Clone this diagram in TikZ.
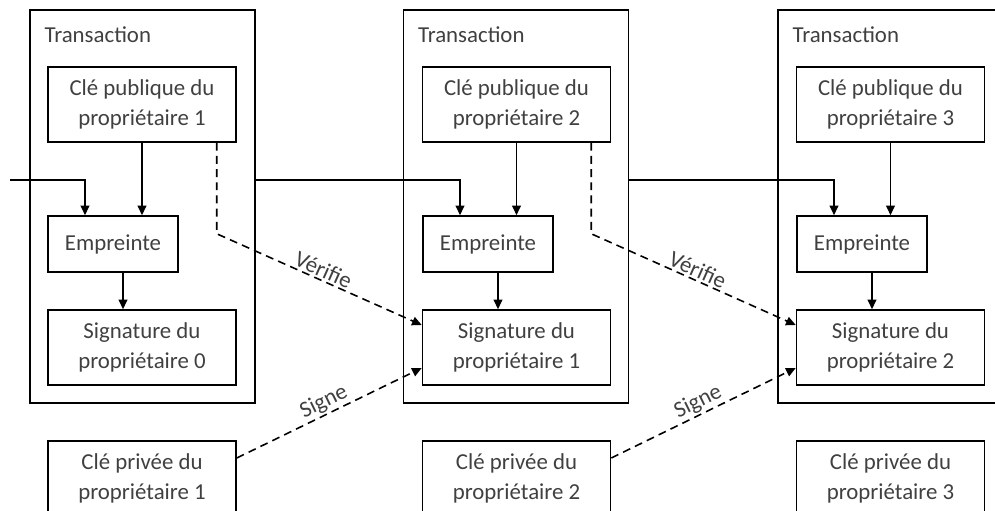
\documentclass[tikz,border=0pt]{standalone}
\usepackage{fontspec}
\setmainfont{Carlito}
\usetikzlibrary{arrows.meta}

\begin{document}
\begin{tikzpicture}[x=0.02cm, y=-0.02cm, font=\fontsize{13}{17}\selectfont,
  box/.style={draw, line width=0.9pt, align=center, text=black!75, minimum width=3.76cm, minimum height=1.5cm, inner sep=0pt},
  hash/.style={box, minimum width=2.6cm, minimum height=1.12cm},
  trans/.style={draw, line width=0.9pt, minimum width=4.5cm, minimum height=7.86cm, inner sep=0pt},
  ttl/.style={anchor=north west, inner sep=0pt, text=black!75},
  arr/.style={line width=0.9pt, -{Triangle[length=5.5pt, width=5pt]}},
  sig/.style={arr, dash pattern=on 4.5pt off 3pt},
  lbl/.style={sloped, above, inner sep=1pt, text=black!75}]
\useasboundingbox (0,0) rectangle (995,511);
\node[trans] (T1) at (142.5,206.5) {};
\node[trans] (T2) at (516,206.5) {};
\node[trans] (T3) at (890.5,206.5) {};
\node[ttl] (T1L) at ([shift={(0.3cm,-0.34cm)}]T1.north west) {Transaction};
\node[ttl] (T2L) at ([shift={(0.3cm,-0.34cm)}]T2.north west) {Transaction};
\node[ttl] (T3L) at ([shift={(0.3cm,-0.34cm)}]T3.north west) {Transaction};
\node[box] (T1Pub) at (142,104.5) {Clé publique du\\propriétaire 1};
\node[hash] (T1Emp) at (113,244) {Empreinte};
\node[box] (T1Sig) at (142,347.5) {Signature du\\propriétaire 0};
\node[box] (T1Priv) at (142,478.5) {Clé privée du\\propriétaire 1};
\node[box] (T2Pub) at (516.5,104.5) {Clé publique du\\propriétaire 2};
\node[hash] (T2Emp) at (488,244) {Empreinte};
\node[box] (T2Sig) at (516.5,347.5) {Signature du\\propriétaire 1};
\node[box] (T2Priv) at (516.5,478.5) {Clé privée du\\propriétaire 2};
\node[box] (T3Pub) at (890.5,104.5) {Clé publique du\\propriétaire 3};
\node[hash] (T3Emp) at (862,244) {Empreinte};
\node[box] (T3Sig) at (890.5,347.5) {Signature du\\propriétaire 2};
\node[box] (T3Priv) at (890.5,478.5) {Clé privée du\\propriétaire 3};
\coordinate (in0) at (10,180);
\draw[arr] (in0) -| ([xshift=-0.56cm]T1Emp.north);
\draw[arr] (T1.east |- in0) -| ([xshift=-0.56cm]T2Emp.north);
\draw[arr] (T2.east |- in0) -| ([xshift=-0.56cm]T3Emp.north);
\draw[arr] (T1Pub.south) -- (T1Pub.south |- T1Emp.north);
\draw[arr] (T2Pub.south) -- (T2Pub.south |- T2Emp.north);
\draw[arr] (T3Pub.south) -- (T3Pub.south |- T3Emp.north);
\draw[arr] ([xshift=0.2cm]T1Emp.south) -- ([xshift=0.2cm]T1Emp.south |- T1Sig.north);
\draw[arr] ([xshift=0.2cm]T2Emp.south) -- ([xshift=0.2cm]T2Emp.south |- T2Sig.north);
\draw[arr] ([xshift=0.2cm]T3Emp.south) -- ([xshift=0.2cm]T3Emp.south |- T3Sig.north);
\draw[sig] ([xshift=-0.4cm]T1Pub.south east) -- ++(0,91) -- node[lbl] {Vérifie} ([yshift=0.45cm]T2Sig.west);
\draw[sig] ([xshift=-0.4cm]T2Pub.south east) -- ++(0,91) -- node[lbl] {Vérifie} ([yshift=0.45cm]T3Sig.west);
\draw[sig] ([yshift=0.41cm]T1Priv.east) -- node[lbl] {Signe} ([yshift=-0.41cm]T2Sig.west);
\draw[sig] ([yshift=0.41cm]T2Priv.east) -- node[lbl] {Signe} ([yshift=-0.41cm]T3Sig.west);
\end{tikzpicture}
\end{document}
